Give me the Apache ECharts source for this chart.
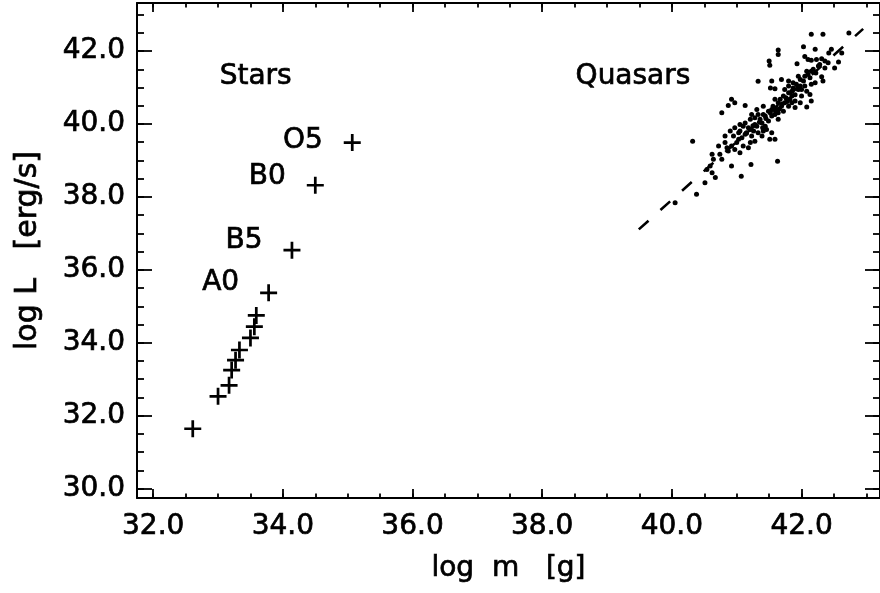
<!DOCTYPE html>
<html>
<head>
<meta charset="utf-8">
<script src="https://cdn.jsdelivr.net/npm/echarts@6/dist/echarts.min.js"></script>
<style>
  html, body { margin: 0; padding: 0; background: #fff; }
  #chart { width: 880px; height: 593px; }
</style>
</head>
<body>
<div id="chart"></div>
<script>
// stars (main sequence), log m vs log L
const starMass = [32.61, 33.00, 33.17, 33.21, 33.27, 33.33, 33.50, 33.56, 33.59, 33.78, 34.14, 34.50, 35.07];
const starLum  = [31.64, 32.53, 32.83, 33.25, 33.52, 33.80, 34.13, 34.44, 34.75, 35.37, 36.54, 38.32, 39.49];
const starType = ['', '', '', '', '', '', '', '', '', 'A0', 'B5', 'B0', 'O5'];

// quasars
const quasarMass = [
  42.15, 42.33, 42.73, 42.03, 42.21, 41.64, 41.64, 42.46, 42.42, 42.62, 41.50, 41.51, 41.93, 42.05, 42.10,
  42.15, 42.23, 42.31, 42.36, 42.41, 42.57, 42.26, 42.36, 42.51, 41.33, 41.54, 41.69, 41.80, 41.87, 42.08,
  42.15, 42.13, 42.31, 42.33, 42.03, 41.98, 42.05, 42.15, 41.52, 41.59, 41.74, 41.85, 41.95, 42.08, 42.13,
  41.85, 41.77, 41.90, 41.98, 42.15, 42.08, 41.90, 40.92, 40.97, 40.87, 40.77, 41.13, 41.41, 41.31, 41.23,
  41.33, 41.54, 41.64, 41.69, 41.80, 41.21, 41.28, 41.44, 41.54, 41.59, 41.64, 41.72, 41.49, 41.39, 41.31,
  41.18, 41.10, 40.97, 41.05, 41.13, 41.23, 41.33, 41.41, 41.46, 41.54, 41.51, 41.59, 41.03, 40.95, 40.92,
  40.82, 40.87, 40.97, 41.05, 41.10, 41.21, 41.28, 41.18, 40.32, 40.62, 40.64, 40.77, 40.59, 40.54, 40.62,
  40.67, 40.51, 40.92, 41.07, 41.22, 41.63, 40.38, 40.05,
  40.85, 41.00, 41.08, 41.15, 41.21, 41.28, 41.36, 41.41, 41.49, 41.56, 41.62, 41.67, 41.72, 41.80, 41.87,
  41.92, 41.98, 42.05, 42.10, 42.18, 42.28, 41.85, 41.74, 41.59, 41.13, 41.03, 41.26, 41.39, 41.44, 41.64,
  41.82, 42.00, 42.21, 41.95, 41.80, 41.05, 40.90, 40.82, 40.72, 40.74,
  41.25, 41.35, 41.45, 41.60, 41.70, 41.78, 41.90, 42.00, 41.15, 41.40, 41.52, 41.66, 41.76, 41.94, 42.22
];
const quasarLum = [
  42.46, 42.46, 42.50, 42.12, 42.05, 42.03, 41.91, 42.05, 41.95, 41.95, 41.73, 41.61, 41.65, 41.85, 41.77,
  41.75, 41.77, 41.79, 41.73, 41.68, 41.70, 41.59, 41.54, 41.54, 41.17, 41.18, 41.22, 41.18, 41.13, 41.45,
  41.45, 41.27, 41.30, 41.18, 41.18, 41.04, 41.04, 41.09, 40.99, 40.97, 40.95, 40.90, 40.95, 40.90, 40.81,
  40.77, 40.68, 40.63, 40.58, 40.63, 40.47, 40.45, 40.68, 40.58, 40.51, 40.31, 40.51, 40.49, 40.40, 40.26,
  40.26, 40.40, 40.58, 40.49, 40.49, 40.13, 40.17, 40.22, 40.22, 40.26, 40.31, 40.35, 40.08, 40.03, 39.94,
  39.90, 39.94, 39.90, 39.81, 39.72, 39.67, 39.76, 39.81, 39.85, 39.76, 39.58, 39.58, 39.58, 39.67, 39.40,
  39.49, 39.26, 39.30, 39.21, 39.40, 39.49, 39.53, 39.35, 39.53, 39.17, 39.03, 39.03, 38.85, 38.75, 38.66,
  38.53, 38.39, 38.85, 38.57, 38.89, 38.98, 38.07, 37.84,
  39.35, 39.49, 39.62, 39.76, 39.85, 39.99, 40.13, 40.26, 40.35, 40.49, 40.40, 40.68, 40.77, 40.86, 40.99,
  41.09, 41.22, 41.31, 41.36, 41.50, 41.63, 40.58, 40.58, 40.68, 40.03, 39.76, 39.81, 39.67, 39.94, 40.13,
  40.68, 40.77, 41.13, 41.31, 41.04, 39.99, 39.81, 39.67, 39.40, 39.17,
  39.95, 40.05, 40.15, 40.35, 40.55, 40.62, 40.80, 40.95, 39.75, 39.90, 40.30, 40.42, 40.72, 41.02, 41.40
];

// dashed relation
const fitMass = [39.49, 42.95];
const fitLum = [37.11, 42.61];

// group captions
const groupNames = ['Stars', 'Quasars'];
const groupMass = [33.58, 39.40];
const groupLum = [41.31, 41.31];

const FONT = 'DejaVu Sans';
const X_MIN = 31.75, X_MAX = 43.21;
const Y_MIN = 29.74, Y_MAX = 43.32;

const textStyle = {
  color: '#000', fontFamily: FONT, fontSize: 28,
  textBorderColor: '#000', textBorderWidth: 0.7
};

const labelShift = { O5: -2, B0: -9, B5: -9, A0: -10 };

function makeAxis(isX, pos, major) {
  const labelled = major && (pos === 'bottom' || pos === 'left');
  return {
    type: 'value',
    position: pos,
    min: isX ? X_MIN : Y_MIN,
    max: isX ? X_MAX : Y_MAX,
    splitNumber: major ? (isX ? 5 : 6) : (isX ? 23 : 27),
    axisLine: { show: major, lineStyle: { color: '#000', width: 2 } },
    axisTick: {
      show: true, inside: true,
      length: major ? (isX ? 9 : 15) : (isX ? 4.5 : 7),
      lineStyle: { color: '#000', width: 1.8 }
    },
    axisLabel: Object.assign({
      show: labelled,
      showMinLabel: false, showMaxLabel: false,
      margin: isX ? 15 : 12,
      formatter: v => v.toFixed(1)
    }, textStyle),
    splitLine: { show: false }
  };
}

const xAxes = [makeAxis(true, 'bottom', true), makeAxis(true, 'bottom', false),
               makeAxis(true, 'top', true), makeAxis(true, 'top', false)];
const yAxes = [makeAxis(false, 'left', true), makeAxis(false, 'left', false),
               makeAxis(false, 'right', true), makeAxis(false, 'right', false)];

Object.assign(xAxes[0], {
  name: 'log  m   [g]', nameLocation: 'middle', nameGap: 57,
  nameTextStyle: textStyle
});
Object.assign(yAxes[0], {
  name: 'log L   [erg/s]', nameLocation: 'middle', nameGap: 94,
  nameTextStyle: Object.assign({}, textStyle, { fontSize: 30 })
});

const chart = echarts.init(document.getElementById('chart'));
chart.setOption({
  animation: false,
  backgroundColor: '#fff',
  grid: { left: 137, top: 3, width: 745, height: 495 },
  xAxis: xAxes,
  yAxis: yAxes,
  series: [
    {
      type: 'line',
      data: fitMass.map((m, i) => [m, fitLum[i]]),
      symbol: 'none',
      lineStyle: { color: '#000', width: 2.6, type: [13, 16], opacity: 1 },
      z: 2
    },
    {
      type: 'scatter',
      data: quasarMass.map((m, i) => [m, quasarLum[i]]),
      symbol: 'circle',
      symbolSize: 5,
      itemStyle: { color: '#000', opacity: 1 },
      z: 3
    },
    {
      type: 'scatter',
      data: starMass.map((m, i) => ({
        value: [m, starLum[i]],
        name: starType[i],
        label: { show: !!starType[i], offset: [0, labelShift[starType[i]] || 0] }
      })),
      symbol: 'path://M42,0H58V42H100V58H58V100H42V58H0V42H42Z',
      symbolSize: 17,
      itemStyle: { color: '#000', opacity: 1 },
      label: Object.assign({
        position: 'left', distance: 21,
        formatter: p => p.name
      }, textStyle),
      z: 4
    },
    {
      type: 'scatter',
      data: groupNames.map((n, i) => ({ value: [groupMass[i], groupLum[i]], name: n })),
      symbolSize: 0,
      itemStyle: { opacity: 1 },
      label: Object.assign({
        show: true, position: 'inside',
        formatter: p => p.name
      }, textStyle),
      z: 5
    }
  ]
});
</script>
</body>
</html>
